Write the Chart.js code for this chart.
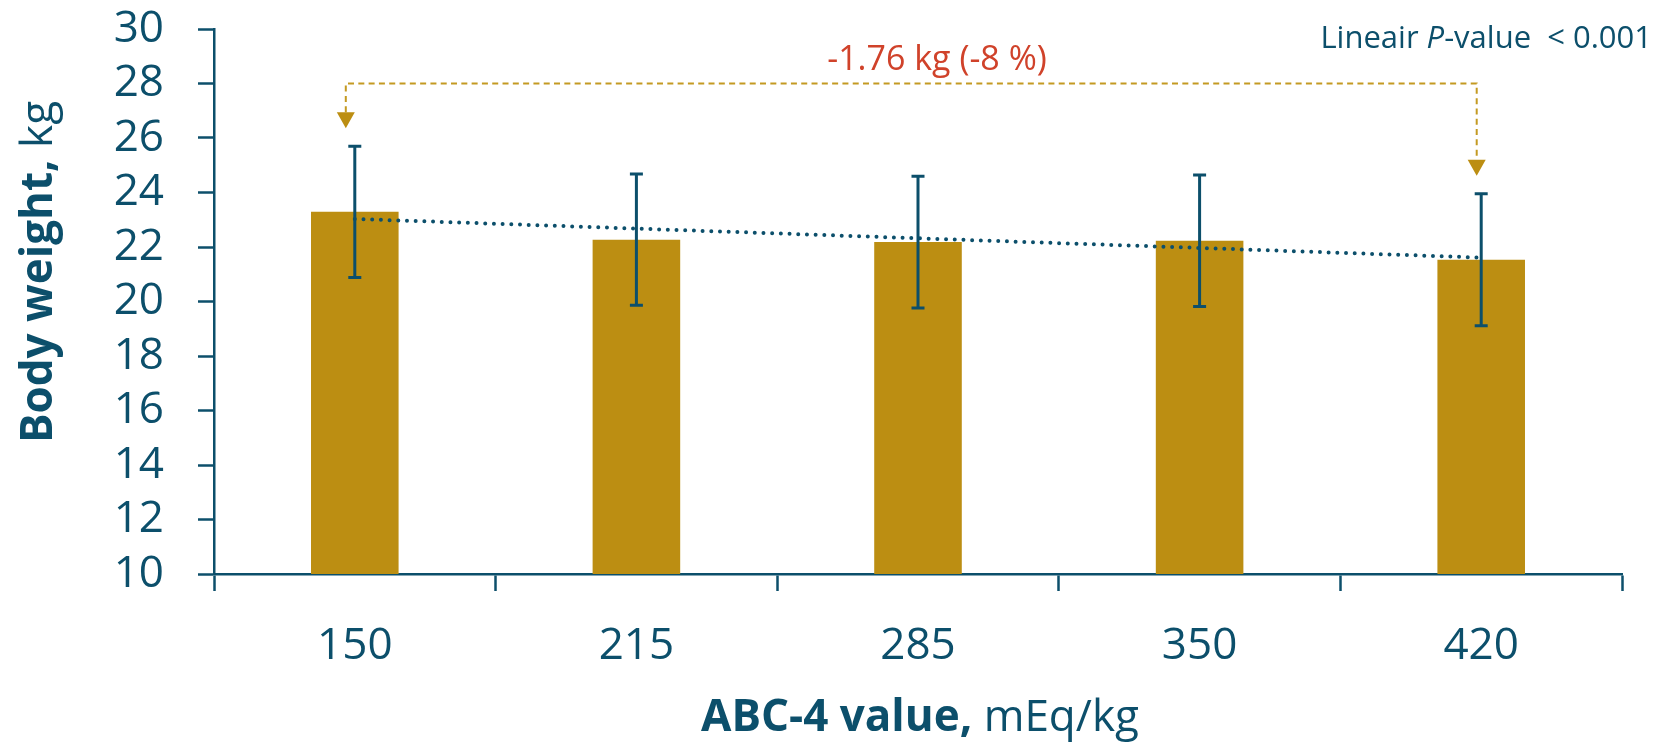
<!DOCTYPE html>
<html>
<head>
<meta charset="utf-8">
<script src="https://cdn.jsdelivr.net/npm/chart.js@4.4.1/dist/chart.umd.min.js"></script>
<style>
  html, body { margin: 0; padding: 0; background: #ffffff; }
  #wrap { width: 1659px; height: 744px; position: relative; }
</style>
</head>
<body>
<div id="wrap"><canvas id="c" width="1659" height="744"></canvas></div>
<script>
// ABC-4 groups and mean body weight (kg) with standard deviation
const categories = ['150', '215', '285', '350', '420'];
const bodyWeight = [23.29, 22.27, 22.18, 22.23, 21.53];
const bodyWeightSD = [2.41, 2.41, 2.42, 2.41, 2.42];
// Linear trend, first and last group
const trendLine = [23.03, null, null, null, 21.61];
const yMin = 10, yMax = 30, yStep = 2;
const changeText = '-1.76 kg (-8 %)';
const bracketLevel = 28;

const TEAL = '#0C4F6B';
const GOLD = '#BC8E12';
const GOLD_DASH = '#C49A22';
const RED = '#D0422A';
const FONT = "'Open Sans', 'Noto Sans', sans-serif";

const errorBars = {
  id: 'errorBars',
  afterDatasetsDraw(chart) {
    const meta = chart.getDatasetMeta(1);
    const y = chart.scales.y;
    const ctx = chart.ctx;
    ctx.save();
    ctx.strokeStyle = TEAL;
    ctx.lineWidth = 3;
    meta.data.forEach((bar, i) => {
      const top = y.getPixelForValue(bodyWeight[i] + bodyWeightSD[i]);
      const bot = y.getPixelForValue(bodyWeight[i] - bodyWeightSD[i]);
      const x = bar.x;
      ctx.beginPath();
      ctx.moveTo(x, top); ctx.lineTo(x, bot);
      ctx.moveTo(x - 6.5, top); ctx.lineTo(x + 6.5, top);
      ctx.moveTo(x - 6.5, bot); ctx.lineTo(x + 6.5, bot);
      ctx.stroke();
    });
    ctx.restore();
  }
};

const annotations = {
  id: 'annotations',
  afterDraw(chart) {
    const ctx = chart.ctx;
    const y = chart.scales.y;
    const bars = chart.getDatasetMeta(1).data;
    const first = 0, last = bars.length - 1;
    const xL = bars[first].x - 9;
    const xR = bars[last].x - 4.5;
    const yLine = y.getPixelForValue(bracketLevel);
    const tipL = y.getPixelForValue(bodyWeight[first] + bodyWeightSD[first]) - 18;
    const tipR = y.getPixelForValue(bodyWeight[last] + bodyWeightSD[last]) - 18;

    ctx.save();
    // dashed bracket between first and last group
    ctx.strokeStyle = GOLD_DASH;
    ctx.lineWidth = 2;
    ctx.setLineDash([6, 4.3]);
    ctx.beginPath();
    ctx.moveTo(xL, tipL - 16);
    ctx.lineTo(xL, yLine);
    ctx.lineTo(xR, yLine);
    ctx.lineTo(xR, tipR - 16);
    ctx.stroke();
    ctx.setLineDash([]);
    ctx.fillStyle = GOLD;
    [[xL, tipL], [xR, tipR]].forEach(([ax, ay]) => {
      ctx.beginPath();
      ctx.moveTo(ax - 9, ay - 16);
      ctx.lineTo(ax + 9, ay - 16);
      ctx.lineTo(ax, ay);
      ctx.closePath();
      ctx.fill();
    });

    // change label
    ctx.fillStyle = RED;
    ctx.font = `34px ${FONT}`;
    ctx.textAlign = 'center';
    ctx.textBaseline = 'alphabetic';
    ctx.fillText(changeText, 937, 70);

    // P-value note, right aligned
    const parts = [
      { t: 'Lineair ', f: `31px ${FONT}` },
      { t: 'P', f: `italic 31px ${FONT}` },
      { t: '-value  < 0.001', f: `31px ${FONT}` }
    ];
    let total = 0;
    parts.forEach(p => { ctx.font = p.f; p.w = ctx.measureText(p.t).width; total += p.w; });
    let px = 1652 - total;
    ctx.fillStyle = TEAL;
    ctx.textAlign = 'left';
    parts.forEach(p => { ctx.font = p.f; ctx.fillText(p.t, px, 48); px += p.w; });

    // axis titles: bold lead + regular unit
    const drawTitle = (bold, reg, cx, cy, rot) => {
      ctx.save();
      ctx.translate(cx, cy);
      if (rot) ctx.rotate(-Math.PI / 2);
      ctx.font = `bold 44px ${FONT}`;
      const wb = ctx.measureText(bold).width;
      ctx.font = `44px ${FONT}`;
      const wr = ctx.measureText(reg).width;
      let sx = -(wb + wr) / 2;
      ctx.textAlign = 'left';
      ctx.textBaseline = 'alphabetic';
      ctx.fillStyle = TEAL;
      ctx.font = `bold 44px ${FONT}`;
      ctx.fillText(bold, sx, 0);
      ctx.font = `44px ${FONT}`;
      ctx.fillText(reg, sx + wb, 0);
      ctx.restore();
    };
    drawTitle('ABC-4 value,', ' mEq/kg', 920, 731, false);
    drawTitle('Body weight,', ' kg', 52, 272, true);
    ctx.restore();
  }
};

new Chart(document.getElementById('c'), {
  data: {
    labels: categories,
    datasets: [
      {
        type: 'line',
        data: trendLine,
        spanGaps: true,
        borderColor: TEAL,
        borderWidth: 4,
        borderDash: [0, 8.7],
        borderCapStyle: 'round',
        pointRadius: 0,
        fill: false,
        order: 0
      },
      {
        type: 'bar',
        data: bodyWeight,
        backgroundColor: GOLD,
        categoryPercentage: 1,
        barPercentage: 0.311,
        order: 1
      }
    ]
  },
  options: {
    responsive: false,
    animation: false,
    layout: { padding: { top: 29, right: 37, left: 0, bottom: 0 } },
    plugins: { legend: { display: false }, tooltip: { enabled: false } },
    scales: {
      x: {
        offset: true,
        ticks: { color: TEAL, font: { family: FONT, size: 44 }, padding: 29, maxRotation: 0 },
        grid: { offset: true, drawOnChartArea: false, drawTicks: true, tickLength: 17, tickWidth: 2.5, tickColor: TEAL },
        border: { color: TEAL, width: 2.5 },
        afterFit(s) { s.height = 170; s.paddingLeft = 0; s.paddingRight = 0; }
      },
      y: {
        min: yMin,
        max: yMax,
        ticks: { stepSize: yStep, autoSkip: false, color: TEAL, font: { family: FONT, size: 44 }, padding: 34 },
        grid: { drawOnChartArea: false, drawTicks: true, tickLength: 16, tickWidth: 2.5, tickColor: TEAL },
        border: { color: TEAL, width: 2.5 },
        afterFit(s) { s.width = 214; s.paddingTop = 0; s.paddingBottom = 0; }
      }
    }
  },
  plugins: [errorBars, annotations]
});
</script>
</body>
</html>
